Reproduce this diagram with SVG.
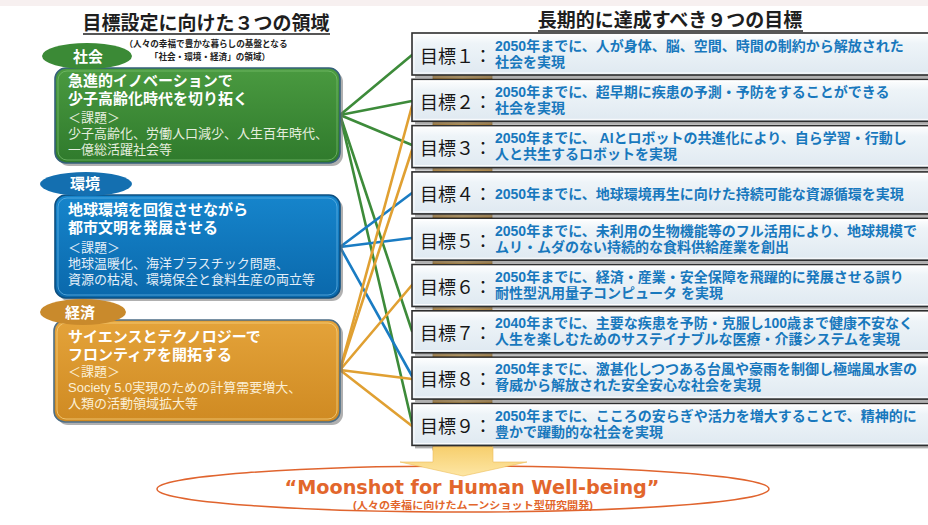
<svg xmlns="http://www.w3.org/2000/svg" width="928" height="525" viewBox="0 0 928 525">
<defs>
<linearGradient id="gGreen" x1="0" y1="0" x2="0" y2="1"><stop offset="0" stop-color="#4a9a40"/><stop offset="1" stop-color="#2f7a2c"/></linearGradient>
<linearGradient id="gBlue" x1="0" y1="0" x2="0" y2="1"><stop offset="0" stop-color="#1685cc"/><stop offset="1" stop-color="#0a68ab"/></linearGradient>
<linearGradient id="gOrange" x1="0" y1="0" x2="0" y2="1"><stop offset="0" stop-color="#e4a33a"/><stop offset="1" stop-color="#cf8a22"/></linearGradient>
<linearGradient id="gGoal" x1="0" y1="0" x2="0" y2="1"><stop offset="0" stop-color="#ffffff"/><stop offset="0.25" stop-color="#eef4f8"/><stop offset="1" stop-color="#dfe9f1"/></linearGradient>
<linearGradient id="gArrow" x1="0" y1="0" x2="0" y2="1"><stop offset="0" stop-color="#f7cf6e"/><stop offset="1" stop-color="#fde6a4"/></linearGradient>
<linearGradient id="gStrip" x1="0" y1="0" x2="1" y2="0"><stop offset="0" stop-color="#c99036"/><stop offset="0.5" stop-color="#e0b15c"/><stop offset="1" stop-color="#c99036"/></linearGradient>
</defs>
<style>
.jp{font-family:"Noto Sans CJK JP","Noto Sans",sans-serif}
.lj{font-family:"Liberation Sans","Noto Sans CJK JP",sans-serif}
.title{font-size:19px;font-weight:bold;fill:#1e1e1e}
.note{font-size:8.6px;font-weight:bold;fill:#222}
.lbl{font-size:15px;font-weight:bold;fill:#fff}
.bt{font-size:15px;font-weight:bold;fill:#fff}
.bs{font-size:13px;fill:#e6eedf}
.bsb{font-size:13px;fill:#e3eef8}
.bso{font-size:13px;fill:#fbefd6}
.shadow{fill:#6f6f6f;opacity:.55}
.goalbox{fill:url(#gGoal);stroke:#2e2e2e;stroke-width:1.6}
.gin{fill:none;stroke:#ffffff;stroke-width:1;opacity:.9}
.gnum{font-size:18px;fill:#161616}
.gtx{font-size:14px;font-weight:bold;fill:#1878bd}
.c{fill:none;stroke-width:2.6;stroke-linecap:round}
.cg{stroke:#3d8b3a}.cb{stroke:#1a7cc3}.co{stroke:#e0a032}
</style>
<rect x="0" y="0" width="928" height="525" fill="#ffffff"/>
<rect x="0" y="0" width="928" height="6" fill="#f7f0f0"/>

<!-- titles -->
<g id="title-left">
<text class="jp title" x="206" y="30" text-anchor="middle">目標設定に向けた３つの領域</text>
<line x1="83" y1="34" x2="330" y2="34" stroke="#1e1e1e" stroke-width="1.3"/>
<text class="lj note" text-anchor="middle"><tspan x="206" y="47">（人々の幸福で豊かな暮らしの基盤となる</tspan><tspan x="210" y="60">「社会・環境・経済」の領域）</tspan></text>
</g>
<g id="title-right">
<text class="jp title" x="670" y="27" text-anchor="middle">長期的に達成すべき９つの目標</text>
<line x1="538" y1="31" x2="803" y2="31" stroke="#1e1e1e" stroke-width="1.3"/>
</g>

<!-- orange strip behind goal boxes -->
<rect x="433" y="70" width="59" height="380" fill="url(#gStrip)" stroke="#a97a28" stroke-width="0.8"/>

<!-- connectors -->
<g id="connectors">
<line class="c cg" x1="340" y1="115" x2="412" y2="55"/>
<line class="c cg" x1="340" y1="115" x2="412" y2="101"/>
<line class="c cg" x1="340" y1="115" x2="412" y2="145"/>
<line class="c cg" x1="340" y1="115" x2="412" y2="331"/>
<line class="c cg" x1="340" y1="115" x2="412" y2="423"/>
<line class="c cb" x1="340" y1="247" x2="412" y2="193"/>
<line class="c cb" x1="340" y1="247" x2="412" y2="238"/>
<line class="c cb" x1="340" y1="247" x2="412" y2="376"/>
<line class="c co" x1="340" y1="370" x2="412" y2="106"/>
<line class="c co" x1="340" y1="370" x2="412" y2="150"/>
<line class="c co" x1="340" y1="370" x2="412" y2="285"/>
<line class="c co" x1="340" y1="370" x2="412" y2="379"/>
<line class="c co" x1="340" y1="370" x2="412" y2="426"/>
</g>

<!-- left area boxes -->
<g id="area-society">
<rect x="58" y="71" width="285" height="95" rx="11" class="shadow"/>
<rect x="55" y="68" width="285" height="95" rx="11" fill="url(#gGreen)" stroke="#35607a" stroke-width="1.6"/>
<rect x="58" y="71" width="279" height="89" rx="9" fill="none" stroke="#7cc070" stroke-width="1" opacity=".7"/>
<ellipse cx="87" cy="56" rx="45" ry="13" fill="#3b8a36"/>
<text class="jp lbl" x="73" y="62">社会</text>
<text class="lj bt"><tspan x="68" y="86">急進的イノベーションで</tspan><tspan x="68" y="104">少子高齢化時代を切り拓く</tspan></text>
<text class="lj bs"><tspan x="68" y="122">＜課題＞</tspan><tspan x="68" y="138">少子高齢化、労働人口減少、人生百年時代、</tspan><tspan x="68" y="154">一億総活躍社会等</tspan></text>
</g>
<g id="area-environment">
<rect x="58" y="198" width="285" height="103" rx="11" class="shadow"/>
<rect x="55" y="195" width="285" height="103" rx="11" fill="url(#gBlue)" stroke="#0d4f80" stroke-width="1.6"/>
<rect x="58" y="198" width="279" height="97" rx="9" fill="none" stroke="#6ab8e8" stroke-width="1" opacity=".7"/>
<ellipse cx="86" cy="184" rx="46" ry="12" fill="#146fb0"/>
<text class="jp lbl" x="70" y="189">環境</text>
<text class="lj bt"><tspan x="68" y="215">地球環境を回復させながら</tspan><tspan x="68" y="233">都市文明を発展させる</tspan></text>
<text class="lj bsb"><tspan x="68" y="252">＜課題＞</tspan><tspan x="68" y="268">地球温暖化、海洋プラスチック問題、</tspan><tspan x="68" y="284">資源の枯渇、環境保全と食料生産の両立等</tspan></text>
</g>
<g id="area-economy">
<rect x="57" y="323" width="286" height="102" rx="11" class="shadow"/>
<rect x="54" y="320" width="286" height="102" rx="11" fill="url(#gOrange)" stroke="#4d6e86" stroke-width="1.6"/>
<rect x="57" y="323" width="280" height="96" rx="9" fill="none" stroke="#f6cf7e" stroke-width="1" opacity=".8"/>
<ellipse cx="83" cy="312" rx="43" ry="13" fill="#c98a2c"/>
<text class="jp lbl" x="65" y="318">経済</text>
<text class="lj bt"><tspan x="68" y="342">サイエンスとテクノロジーで</tspan><tspan x="68" y="360">フロンティアを開拓する</tspan></text>
<text class="lj bso"><tspan x="68" y="376">＜課題＞</tspan><tspan x="68" y="392">Society 5.0実現のための計算需要増大、</tspan><tspan x="68" y="408">人類の活動領域拡大等</tspan></text>
</g>

<!-- goal boxes -->
<g id="goal-1">
<rect x="415" y="36" width="530" height="42" class="shadow"/>
<rect x="412" y="33" width="530" height="42" class="goalbox"/>
<rect x="414" y="35" width="526" height="38" class="gin"/>
<text class="jp gnum" x="420" y="63">目標１：</text>
<text class="lj gtx"><tspan x="495" y="51">2050年までに、人が身体、脳、空間、時間の制約から解放された</tspan><tspan x="495" y="67">社会を実現</tspan></text>
</g>
<g id="goal-2">
<rect x="415" y="82.3" width="530" height="42" class="shadow"/>
<rect x="412" y="79.3" width="530" height="42" class="goalbox"/>
<rect x="414" y="81.3" width="526" height="38" class="gin"/>
<text class="jp gnum" x="420" y="109">目標２：</text>
<text class="lj gtx"><tspan x="495" y="97">2050年までに、超早期に疾患の予測・予防をすることができる</tspan><tspan x="495" y="113">社会を実現</tspan></text>
</g>
<g id="goal-3">
<rect x="415" y="128.6" width="530" height="42" class="shadow"/>
<rect x="412" y="125.6" width="530" height="42" class="goalbox"/>
<rect x="414" y="127.6" width="526" height="38" class="gin"/>
<text class="jp gnum" x="420" y="155">目標３：</text>
<text class="lj gtx"><tspan x="495" y="143">2050年までに、 AIとロボットの共進化により、自ら学習・行動し</tspan><tspan x="495" y="159">人と共生するロボットを実現</tspan></text>
</g>
<g id="goal-4">
<rect x="415" y="174.9" width="530" height="42" class="shadow"/>
<rect x="412" y="171.9" width="530" height="42" class="goalbox"/>
<rect x="414" y="173.9" width="526" height="38" class="gin"/>
<text class="jp gnum" x="420" y="201">目標４：</text>
<text class="lj gtx" x="495" y="199">2050年までに、地球環境再生に向けた持続可能な資源循環を実現</text>
</g>
<g id="goal-5">
<rect x="415" y="221.2" width="530" height="42" class="shadow"/>
<rect x="412" y="218.2" width="530" height="42" class="goalbox"/>
<rect x="414" y="220.2" width="526" height="38" class="gin"/>
<text class="jp gnum" x="420" y="248">目標５：</text>
<text class="lj gtx"><tspan x="495" y="236">2050年までに、未利用の生物機能等のフル活用により、地球規模で</tspan><tspan x="495" y="252">ムリ・ムダのない持続的な食料供給産業を創出</tspan></text>
</g>
<g id="goal-6">
<rect x="415" y="267.5" width="530" height="42" class="shadow"/>
<rect x="412" y="264.5" width="530" height="42" class="goalbox"/>
<rect x="414" y="266.5" width="526" height="38" class="gin"/>
<text class="jp gnum" x="420" y="294">目標６：</text>
<text class="lj gtx"><tspan x="495" y="282">2050年までに、経済・産業・安全保障を飛躍的に発展させる誤り</tspan><tspan x="495" y="298">耐性型汎用量子コンピュータ を実現</tspan></text>
</g>
<g id="goal-7">
<rect x="415" y="313.8" width="530" height="42" class="shadow"/>
<rect x="412" y="310.8" width="530" height="42" class="goalbox"/>
<rect x="414" y="312.8" width="526" height="38" class="gin"/>
<text class="jp gnum" x="420" y="340">目標７：</text>
<text class="lj gtx"><tspan x="495" y="328">2040年までに、主要な疾患を予防・克服し100歳まで健康不安なく</tspan><tspan x="495" y="344">人生を楽しむためのサステイナブルな医療・介護システムを実現</tspan></text>
</g>
<g id="goal-8">
<rect x="415" y="360.1" width="530" height="42" class="shadow"/>
<rect x="412" y="357.1" width="530" height="42" class="goalbox"/>
<rect x="414" y="359.1" width="526" height="38" class="gin"/>
<text class="jp gnum" x="420" y="386">目標８：</text>
<text class="lj gtx"><tspan x="495" y="374">2050年までに、激甚化しつつある台風や豪雨を制御し極端風水害の</tspan><tspan x="495" y="390">脅威から解放された安全安心な社会を実現</tspan></text>
</g>
<g id="goal-9">
<rect x="415" y="406.4" width="530" height="42" class="shadow"/>
<rect x="412" y="403.4" width="530" height="42" class="goalbox"/>
<rect x="414" y="405.4" width="526" height="38" class="gin"/>
<text class="jp gnum" x="420" y="433">目標９：</text>
<text class="lj gtx"><tspan x="495" y="421">2050年までに、こころの安らぎや活力を増大することで、精神的に</tspan><tspan x="495" y="437">豊かで躍動的な社会を実現</tspan></text>
</g>

<!-- bottom -->
<g id="moonshot">
<ellipse cx="463" cy="489" rx="306" ry="23" fill="#ffffff" stroke="#e0642e" stroke-width="1.5"/>
<path d="M433,447 L493,447 L493,462 L527,462 L463,476 L400,462 L433,462 Z" fill="url(#gArrow)" stroke="#ecbd5a" stroke-width="0.6"/>
<text x="472" y="494" text-anchor="middle" font-family="'DejaVu Sans',Verdana,sans-serif" font-weight="bold" font-size="20" fill="#e2662c" textLength="375" lengthAdjust="spacingAndGlyphs">“Moonshot for Human Well-being”</text>
<text class="lj" x="473" y="509" text-anchor="middle" font-size="10" font-weight="bold" fill="#e2662c" textLength="240" lengthAdjust="spacingAndGlyphs">(人々の幸福に向けたムーンショット型研究開発)</text>
</g>
</svg>
